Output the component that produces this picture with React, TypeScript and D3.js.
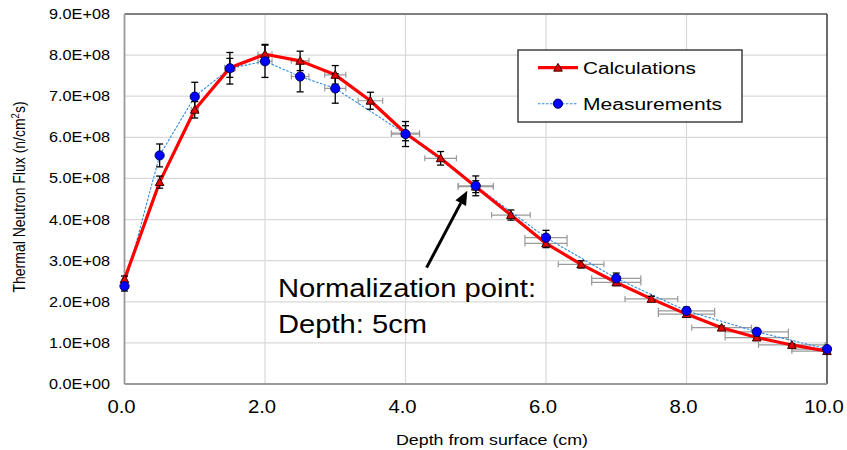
import React from "react";
import * as d3 from "d3";

const depthCalc = [0, 0.5, 1, 1.5, 2, 2.5, 3, 3.5, 4, 4.5, 5, 5.5, 6, 6.5, 7, 7.5, 8, 8.5, 9, 9.5, 10];
const fluxCalc = [2.55, 4.91, 6.67, 7.69, 8.02, 7.86, 7.52, 6.89, 6.1, 5.49, 4.8, 4.11, 3.42, 2.91, 2.47, 2.07, 1.7, 1.37, 1.13, 0.95, 0.8].map((v) => v * 1e8);
const depthMeas = [0, 0.5, 1, 1.5, 2, 2.5, 3, 4, 5, 6, 7, 8, 9, 10];
const fluxMeas = [2.38, 5.56, 6.99, 7.68, 7.85, 7.48, 7.19, 6.08, 4.82, 3.56, 2.57, 1.78, 1.27, 0.85].map((v) => v * 1e8);
const calcErrFrac = 0.03;
const measErrFrac = 0.05;
const depthErrFrac = 0.05;
const yTicks = [0, 1e8, 2e8, 3e8, 4e8, 5e8, 6e8, 7e8, 8e8, 9e8];
const xTicks = [0, 2, 4, 6, 8, 10];
const seriesNames = ["Calculations", "Measurements"];

const W = 847, H = 450;
const FONT = "'Liberation Sans', Arial, sans-serif";

export default function App() {
  const x = d3.scaleLinear().domain([0, 10]).range([124.5, 827]);
  const y = d3.scaleLinear().domain([0, 9e8]).range([384, 14]);
  const calcPts = depthCalc.map((d, i) => ({ d, v: fluxCalc[i] }));
  const measPts = depthMeas.map((d, i) => ({ d, v: fluxMeas[i] }));
  const line = d3.line<{ d: number; v: number }>().x((p) => x(p.d)).y((p) => y(p.v));
  const yFmt = (v: number) => (v / 1e8).toFixed(1) + (v === 0 ? "E+00" : "E+08");

  const tri = (cx: number, cy: number, s = 4.3) =>
    `M${cx},${cy - s} L${cx + s},${cy + s * 0.8} L${cx - s},${cy + s * 0.8} Z`;

  const hErr = (pts: { d: number; v: number }[]) =>
    pts.map((p, i) => {
      const e = p.d * depthErrFrac;
      if (e === 0) return null;
      const x0 = x(p.d - e), x1 = x(p.d + e), yy = y(p.v);
      return (
        <g key={i} stroke="#9a9a9a" strokeWidth={1.2}>
          <line x1={x0} x2={x1} y1={yy} y2={yy} />
          <line x1={x0} x2={x0} y1={yy - 3} y2={yy + 3} />
          <line x1={x1} x2={x1} y1={yy - 3} y2={yy + 3} />
        </g>
      );
    });
  const vErr = (pts: { d: number; v: number }[], frac: number) =>
    pts.map((p, i) => {
      const e = p.v * frac;
      const y0 = y(p.v - e), y1 = y(p.v + e), xx = x(p.d);
      return (
        <g key={i} stroke="#000" strokeWidth={1.3}>
          <line x1={xx} x2={xx} y1={y0} y2={y1} />
          <line x1={xx - 3.5} x2={xx + 3.5} y1={y0} y2={y0} />
          <line x1={xx - 3.5} x2={xx + 3.5} y1={y1} y2={y1} />
        </g>
      );
    });

  const tip = { x: x(4.88), y: y(4.7e8) };
  const tail = { x: x(4.3), y: y(2.83e8) };
  const ang = Math.atan2(tip.y - tail.y, tip.x - tail.x);
  const hl = 14, hw = 6;
  const bx = tip.x - hl * Math.cos(ang), by = tip.y - hl * Math.sin(ang);
  const px = -Math.sin(ang) * hw, py = Math.cos(ang) * hw;

  return (
    <svg width={W} height={H} style={{ position: "absolute", left: 0, top: 0, background: "#fff" }} fontFamily={FONT}>
      <defs>
        <clipPath id="plotclip">
          <rect x={x(0)} y={y(9e8)} width={x(10) - x(0)} height={y(0) - y(9e8)} />
        </clipPath>
      </defs>
      <rect width={W} height={H} fill="#fff" />
      {yTicks.slice(1, -1).map((t) => (
        <line key={t} x1={x(0)} x2={x(10)} y1={y(t)} y2={y(t)} stroke="#d9d9d9" strokeWidth={1.2} />
      ))}
      {xTicks.slice(1, -1).map((t) => (
        <line key={t} x1={x(t)} x2={x(t)} y1={y(0)} y2={y(9e8)} stroke="#d9d9d9" strokeWidth={1.2} />
      ))}
      <line x1={x(0)} x2={x(10)} y1={y(9e8)} y2={y(9e8)} stroke="#7f7f7f" strokeWidth={2} />
      <line x1={x(10)} x2={x(10)} y1={y(9e8)} y2={y(0)} stroke="#3a3a3a" strokeWidth={1.5} />
      <line x1={x(0)} x2={x(0)} y1={y(9e8)} y2={y(0)} stroke="#9a9a9a" strokeWidth={1.8} />
      <line x1={x(0)} x2={x(10)} y1={y(0)} y2={y(0)} stroke="#9a9a9a" strokeWidth={1.8} />

      {yTicks.map((t) => (
        <text key={t} x={49} y={y(t) + 5} textLength={61} lengthAdjust="spacingAndGlyphs" fontSize={14.5} fill="#000">
          {yFmt(t)}
        </text>
      ))}
      {xTicks.map((t) => (
        <text key={t} transform={`translate(${x(t) - 3},412.7) scale(1.16,1)`} textAnchor="middle" fontSize={17.5} fill="#000">
          {t.toFixed(1)}
        </text>
      ))}
      <text x={396} y={445} textLength={192} lengthAdjust="spacingAndGlyphs" fontSize={14.5} fill="#000">
        Depth from surface (cm)
      </text>
      <text transform="translate(25,197) scale(1.2,1) rotate(-90)" textAnchor="middle" fontSize={14} fill="#000">
        Thermal Neutron Flux (n/cm<tspan fontSize={9.5} dy={-5}>2</tspan>
        <tspan dy={5}>s)</tspan>
      </text>

      <g clipPath="url(#plotclip)">
        {hErr(calcPts)}
        {hErr(measPts)}
        <path d={line(measPts) || ""} fill="none" stroke="#2e8ae6" strokeWidth={1.1} strokeDasharray="2.5,1.5" />
        <path d={line(calcPts) || ""} fill="none" stroke="#ff0000" strokeWidth={3.2} strokeLinejoin="round" />
      </g>
      {vErr(calcPts, calcErrFrac)}
      {vErr(measPts, measErrFrac)}
      {calcPts.map((p, i) => (
        <path key={i} d={tri(x(p.d), y(p.v))} fill="#e60000" stroke="#3a0000" strokeWidth={1} />
      ))}
      {measPts.map((p, i) => (
        <circle key={i} cx={x(p.d)} cy={y(p.v)} r={4.6} fill="#0000ff" stroke="#000060" strokeWidth={1} />
      ))}

      <rect x={518} y={50} width={224} height={72} fill="#fff" stroke="#404040" strokeWidth={1.5} />
      <line x1={538} x2={578} y1={67.7} y2={67.7} stroke="#ff0000" strokeWidth={3.2} />
      <path d={tri(558, 67.7)} fill="#e60000" stroke="#3a0000" strokeWidth={1} />
      <text x={583} y={73.9} textLength={113} lengthAdjust="spacingAndGlyphs" fontSize={17.3} fill="#000">{seriesNames[0]}</text>
      <line x1={538} x2={578} y1={103.7} y2={103.7} stroke="#2e8ae6" strokeWidth={1.1} strokeDasharray="2.5,1.5" />
      <circle cx={558} cy={103.7} r={4.6} fill="#0000ff" stroke="#000060" strokeWidth={1} />
      <text x={583} y={110} textLength={139} lengthAdjust="spacingAndGlyphs" fontSize={17.3} fill="#000">{seriesNames[1]}</text>

      <line x1={tail.x} y1={tail.y} x2={bx} y2={by} stroke="#000" strokeWidth={3} />
      <path d={`M${tip.x},${tip.y} L${bx + px},${by + py} L${bx - px},${by - py} Z`} fill="#000" />
      <text x={278} y={297.3} textLength={258} lengthAdjust="spacingAndGlyphs" fontSize={25} fill="#000">Normalization point:</text>
      <text x={278} y={333.3} textLength={149} lengthAdjust="spacingAndGlyphs" fontSize={25} fill="#000">Depth: 5cm</text>
    </svg>
  );
}
